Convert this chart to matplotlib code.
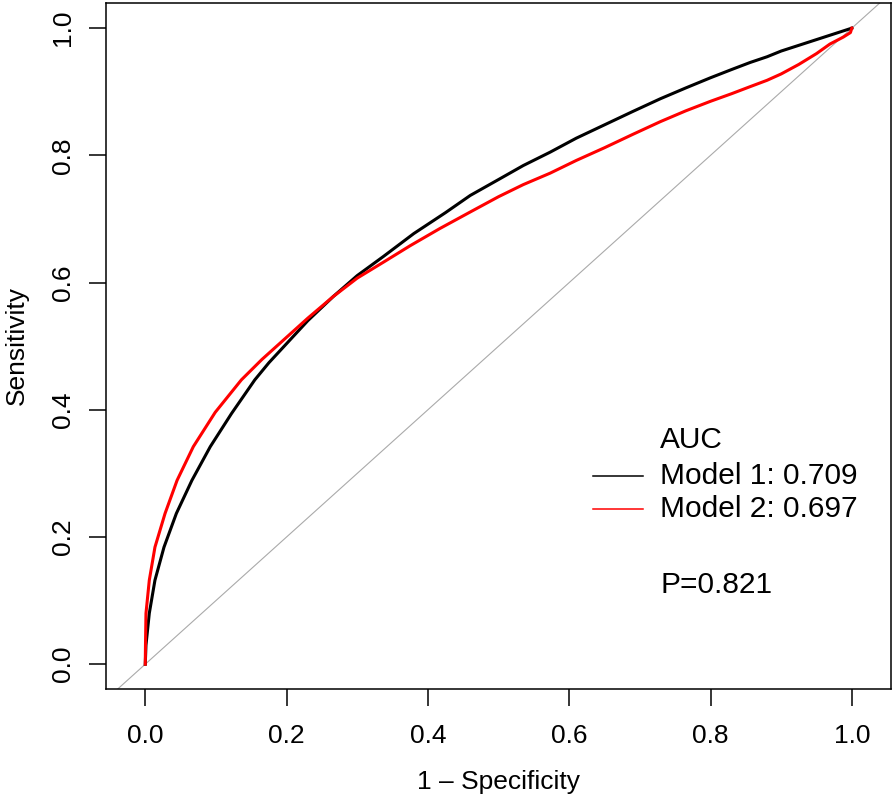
import matplotlib
matplotlib.use("Agg")
import matplotlib.pyplot as plt

plt.rcParams['font.family'] = ['Liberation Sans', 'DejaVu Sans']

# Model 1 (black) ROC curve points
m1_fpr = [0, 0.001, 0.0057, 0.0137, 0.0265, 0.044, 0.066, 0.092, 0.122, 0.155,
          0.175, 0.195, 0.23, 0.266, 0.30, 0.337, 0.38, 0.425, 0.46, 0.50,
          0.535, 0.573, 0.61, 0.65, 0.69, 0.729, 0.765, 0.80, 0.83, 0.856,
          0.88, 0.90, 0.925, 0.95, 0.975, 1.0]
m1_tpr = [0, 0.03, 0.080, 0.132, 0.184, 0.237, 0.289, 0.342, 0.394, 0.447,
          0.474, 0.498, 0.540, 0.578, 0.611, 0.641, 0.677, 0.710, 0.737, 0.762,
          0.784, 0.805, 0.827, 0.848, 0.869, 0.889, 0.906, 0.922, 0.935, 0.946,
          0.955, 0.964, 0.973, 0.982, 0.991, 1.0]

# Model 2 (red) ROC curve points
m2_fpr = [0, 0.0003, 0.001, 0.0057, 0.0137, 0.028, 0.045, 0.068, 0.099, 0.136,
          0.165, 0.195, 0.23, 0.266, 0.30, 0.337, 0.375, 0.417, 0.46, 0.50,
          0.535, 0.573, 0.61, 0.65, 0.69, 0.729, 0.765, 0.80, 0.83, 0.856,
          0.88, 0.90, 0.925, 0.95, 0.969, 0.988, 0.998, 1.0]
m2_tpr = [0, 0.03, 0.080, 0.132, 0.184, 0.237, 0.289, 0.342, 0.396, 0.447,
          0.479, 0.509, 0.544, 0.578, 0.607, 0.632, 0.658, 0.685, 0.711, 0.735,
          0.754, 0.772, 0.792, 0.812, 0.833, 0.853, 0.870, 0.885, 0.897, 0.908,
          0.918, 0.928, 0.943, 0.960, 0.975, 0.986, 0.993, 1.0]

ticks = [0.0, 0.2, 0.4, 0.6, 0.8, 1.0]
tick_labels = ["0.0", "0.2", "0.4", "0.6", "0.8", "1.0"]
legend_title = "AUC"
legend_labels = ["Model 1: 0.709", "Model 2: 0.697"]
p_text = "P=0.821"

W, H = 894, 797
fig = plt.figure(figsize=(W / 100, H / 100), dpi=100)
left, right, top, bottom = 105.7, 890.7, 2.7, 689.0
ax = fig.add_axes([left / W, 1 - bottom / H, (right - left) / W, (bottom - top) / H])

ax.set_xlim(-0.056, 1.055)
ax.set_ylim(-0.039, 1.04)

# diagonal reference
ax.axline((0, 0), (1, 1), color='#aaaaaa', lw=0.8, zorder=1)

ax.plot(m1_fpr, m1_tpr, color='black', lw=2.2, zorder=3, solid_joinstyle='round')
ax.plot(m2_fpr, m2_tpr, color='#ff0000', lw=2.2, zorder=3, solid_joinstyle='round')

ax.set_xticks(ticks)
ax.set_xticklabels(tick_labels)
ax.set_yticks(ticks)
ax.set_yticklabels(tick_labels, rotation=90, va='center')
ax.tick_params(axis='both', direction='out', length=12.2, width=1.1, labelsize=19, colors='black')
ax.tick_params(axis='x', pad=13)
ax.tick_params(axis='y', pad=10)
for s in ax.spines.values():
    s.set_linewidth(1.1)

ax.set_xlabel("1 – Specificity", fontsize=19, labelpad=16)
ax.set_ylabel("Sensitivity", fontsize=19, labelpad=16)

# legend drawn manually in data coordinates
tx = 0.7286
fs_leg = 21.5
ax.text(tx, 0.352, legend_title, fontsize=fs_leg, va='center', ha='left')
ax.text(tx, 0.296, legend_labels[0], fontsize=fs_leg, va='center', ha='left')
ax.text(tx, 0.244, legend_labels[1], fontsize=fs_leg, va='center', ha='left')
ax.plot([0.634, 0.7045], [0.296, 0.296], color='black', lw=1.1)
ax.plot([0.634, 0.7045], [0.244, 0.244], color='#ff0000', lw=1.1)
ax.text(tx, 0.124, p_text, fontsize=fs_leg, va='center', ha='left')

fig.savefig("out.png", dpi=100)
